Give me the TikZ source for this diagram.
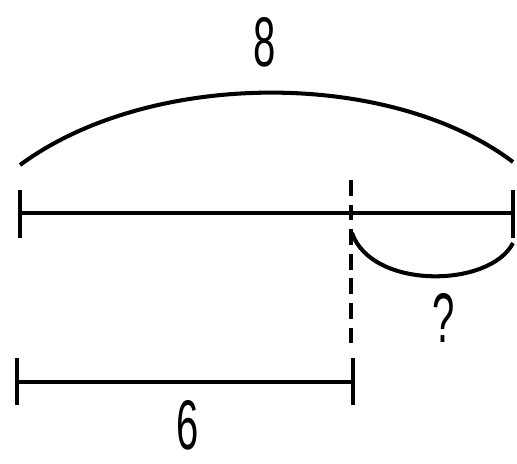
\documentclass[tikz,border=0pt]{standalone}
\usepackage{fontspec}
\setmainfont{Liberation Sans}
\usetikzlibrary{positioning}
\newcommand{\narrowtxt}[1]{\scalebox{0.57}[1]{#1}}

\begin{document}
\begin{tikzpicture}[x=0.02cm,y=-0.02cm, line width=2.3pt,
    every node/.style={font=\fontsize{40}{40}\selectfont, inner sep=0pt},
    tick/.style={line width=2.5pt}]
    \useasboundingbox (0,0) rectangle (517,463);
    % whole segment
    \coordinate (wl) at (20,213);
    \coordinate (wr) at (513,213);
    \coordinate (wm) at (351,213);
    \draw (wl) -- (wr);
    \draw[tick] (20,190) -- (20,238);
    \draw[tick] (513,190) -- (513,238);
    % part segment
    \coordinate (pl) at (17,382);
    \coordinate (pr) at (353,382);
    \draw (pl) -- (pr);
    \draw[tick] (17,358) -- (17,405);
    \draw[tick] (353,358) -- (353,405);
    % dashed divider
    \draw[dashed, dash pattern=on 9pt off 5pt] (351,180) -- (351,352);
    % braces
    \draw (20,165) .. controls (150,69) and (390,69) .. (513,162);
    \draw (352,233) .. controls (372,290) and (490,288) .. (513,243);
    % labels
    \node (total) at (265,42) {\narrowtxt{8}};
    \node (rest) at (444,318) {\narrowtxt{?}};
    \node (part) at (188,425) {\narrowtxt{6}};
\end{tikzpicture}
\end{document}
